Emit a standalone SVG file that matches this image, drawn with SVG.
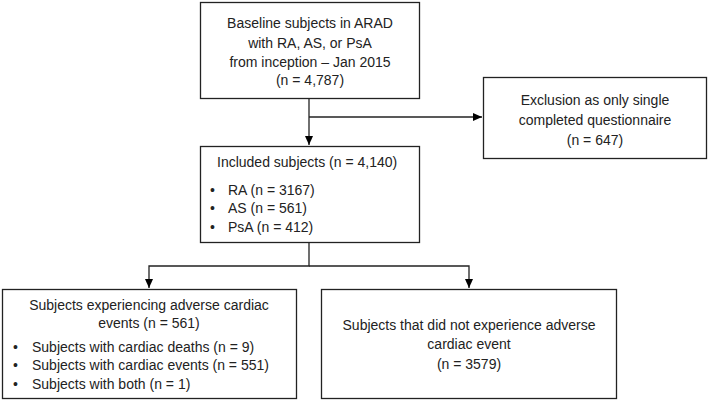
<svg xmlns="http://www.w3.org/2000/svg" width="709" height="401" viewBox="0 0 709 401">
<defs>
<marker id="ah" markerWidth="10" markerHeight="10" refX="9" refY="5" orient="auto" markerUnits="userSpaceOnUse">
<path d="M0,1 L9,5 L0,9 Z" fill="#000"/>
</marker>
<style>
.box{fill:#fff;stroke:#222;stroke-width:1.3}
.t{font-family:"Liberation Sans",Arial,sans-serif;font-size:14px;fill:#222}
.c{text-anchor:middle}
.ln{fill:none;stroke:#222;stroke-width:1.3}
</style>
</defs>
<rect width="709" height="401" fill="#fff"/>
<g id="connectors">
<path class="ln" d="M309,99 V145" marker-end="url(#ah)"/>
<path class="ln" d="M309,117 H482" marker-end="url(#ah)"/>
<path class="ln" d="M309,243 V266 H149 V288" marker-end="url(#ah)"/>
<path class="ln" d="M309,266 H469 V288" marker-end="url(#ah)"/>
</g>
<g id="baseline">
<rect class="box" x="200.5" y="2.5" width="219" height="96"/>
<text class="t c" x="310" y="28">Baseline subjects in ARAD</text>
<text class="t c" x="310" y="48">with RA, AS, or PsA</text>
<text class="t c" x="310" y="67">from inception – Jan 2015</text>
<text class="t c" x="310" y="85">(n = 4,787)</text>
</g>
<g id="exclusion">
<rect class="box" x="483.5" y="77.5" width="223" height="81"/>
<text class="t c" x="595" y="105">Exclusion as only single</text>
<text class="t c" x="595" y="125">completed questionnaire</text>
<text class="t c" x="595" y="145">(n = 647)</text>
</g>
<g id="included">
<rect class="box" x="200.5" y="146.5" width="219" height="96"/>
<text class="t" x="217" y="167">Included subjects (n = 4,140)</text>
<text class="t" x="210" y="195">•</text><text class="t" x="228" y="195">RA (n = 3167)</text>
<text class="t" x="210" y="213">•</text><text class="t" x="228" y="213">AS (n = 561)</text>
<text class="t" x="210" y="232">•</text><text class="t" x="228" y="232">PsA (n = 412)</text>
</g>
<g id="adverse">
<rect class="box" x="2.5" y="289.5" width="294" height="109"/>
<text class="t c" x="149" y="310">Subjects experiencing adverse cardiac</text>
<text class="t c" x="149" y="328">events (n = 561)</text>
<text class="t" x="13" y="352">•</text><text class="t" x="32" y="352">Subjects with cardiac deaths (n = 9)</text>
<text class="t" x="13" y="370">•</text><text class="t" x="32" y="370">Subjects with cardiac events (n = 551)</text>
<text class="t" x="13" y="389">•</text><text class="t" x="32" y="389">Subjects with both (n = 1)</text>
</g>
<g id="noevent">
<rect class="box" x="321.5" y="289.5" width="295" height="109"/>
<text class="t c" x="469" y="330">Subjects that did not experience adverse</text>
<text class="t c" x="469" y="349">cardiac event</text>
<text class="t c" x="469" y="369">(n = 3579)</text>
</g>
</svg>
